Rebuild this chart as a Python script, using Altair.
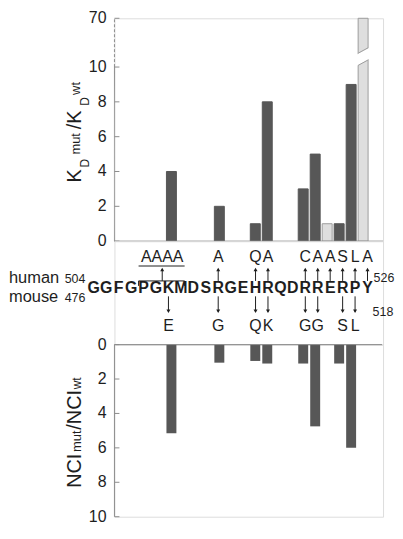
import altair as alt
import pandas as pd

# ---------------- data ----------------
residues = list("GGFGPGKMDSRGEHRQDRRERPY")          # human 504-526 / mouse 476-518
kd_pos = [6, 10, 13, 14, 17, 18, 19, 20, 21, 22]     # residue index of each KD bar
kd_val = [4, 2, 1, 8, 3, 5, 1, 1, 9, 70]              # KD mut / KD wt
kd_kind = ["dark", "dark", "dark", "dark", "dark", "dark", "light", "dark", "dark", "light"]
nci_pos = [6, 10, 13, 14, 17, 18, 20, 21]
nci_val = [5.15, 1.05, 0.95, 1.1, 1.1, 4.75, 1.1, 6.0]  # NCI mut / NCI wt
human_pos = [5.5, 10, 13, 14, 17, 18, 19, 20, 21, 22]
human_aa = ["AAAA", "A", "Q", "A", "C", "A", "A", "S", "L", "A"]
mouse_pos = [6, 10, 13, 14, 17, 18, 20, 21]
mouse_aa = ["E", "G", "Q", "K", "G", "G", "S", "L"]
kd_ticks = [0, 2, 4, 6, 8, 10, 70]
nci_ticks = [0, 2, 4, 6, 8, 10]
bracket_span = [4, 7]          # residues P..M replaced by AAAA
break_band = [10.05, 10.75]    # axis break on the 70 bar

# ---------------- style ----------------
FONT = "Liberation Sans"
INK = "#1e1e1e"
AXC = "#8c8c8c"
DARK = "#575757"
LIGHT = "#dedede"
W = 270
H_TOP, H_MID, H_BOT = 224, 104, 173
TOPDISP = 12.8   # display position of the broken-axis value 70
CALC = f"datum.v > 10 ? {TOPDISP} : datum.v"

xs = alt.Scale(domain=[1.66, 23.25], nice=False, zero=False)


def X(f):
    return alt.X(f, type="quantitative", scale=xs, axis=None)


ys_top = alt.Scale(domain=[0, TOPDISP], nice=False, zero=True)
ys_bot = alt.Scale(domain=[0, 10], nice=False, zero=True, reverse=True)


def YT(f):
    return alt.Y(f, type="quantitative", scale=ys_top, axis=None)


def YB(f):
    return alt.Y(f, type="quantitative", scale=ys_bot, axis=None)


def rot_text(txt, size, px, py):
    return alt.Chart(pd.DataFrame({"t": [txt]})).mark_text(
        font=FONT, fontSize=size, angle=270, align="left", baseline="alphabetic", color=INK
    ).encode(x=alt.value(px), y=alt.value(py), text="t:N")


def tick_labels(ticks, Y, calc=None):
    ch = alt.Chart(pd.DataFrame({"v": ticks, "lab": [str(t) for t in ticks]}))
    field = "v"
    if calc:
        ch = ch.transform_calculate(disp=calc)
        field = "disp"
    return ch.mark_text(font=FONT, fontSize=16, align="right", baseline="middle", color=INK).encode(
        y=Y(field), x=alt.value(-8), text="lab:N")


# ---------------- top panel ----------------
kd_df = pd.DataFrame({"pos": kd_pos, "v": kd_val, "kind": kd_kind})
bars_top = alt.Chart(kd_df).transform_calculate(disp=CALC, base="0").mark_bar(
    size=10, strokeWidth=1
).encode(
    x=X("pos"),
    y=YT("disp"),
    y2="base",
    color=alt.Color("kind:N", scale=alt.Scale(domain=["dark", "light"], range=[DARK, LIGHT]), legend=None),
    stroke=alt.Stroke("kind:N", scale=alt.Scale(domain=["dark", "light"], range=[DARK, "#9c9c9c"]), legend=None),
)

tick_top = alt.Chart(pd.DataFrame({"v": kd_ticks})).transform_calculate(disp=CALC).mark_rule(
    color=AXC, strokeWidth=1
).encode(y=YT("disp"), x=alt.value(0), x2=alt.value(5))

axis_top = alt.Chart(pd.DataFrame({"a": [0, 10], "b": [10, 70], "d": ["solid", "dashed"]})).transform_calculate(
    bd=f"datum.b > 10 ? {TOPDISP} : datum.b"
).mark_rule(color=AXC, strokeWidth=1).encode(
    x=alt.value(0),
    y=YT("a"), y2="bd",
    strokeDash=alt.StrokeDash("d:N", scale=alt.Scale(domain=["solid", "dashed"], range=[[1, 0], [3, 2]]), legend=None),
)

base_top = alt.Chart(pd.DataFrame({"v": [0]})).mark_rule(color=AXC, strokeWidth=1).encode(
    y=YT("v"), x=alt.value(0), x2=alt.value(W)
)

# axis break drawn through the 70 bar
bx = kd_pos[-1]
brk_area = pd.DataFrame({
    "x": [bx - 0.52, bx + 0.52],
    "lo": [break_band[0] + 0.03, break_band[0] + 0.42],
    "hi": [break_band[1] - 0.03, break_band[1] + 0.36],
})
brk_white = alt.Chart(brk_area).mark_area(color="white", opacity=1).encode(
    x=X("x"), y=YT("lo"), y2="hi"
)
brk_lines = alt.Chart(pd.DataFrame({
    "x": [bx - 0.4, bx + 0.4, bx - 0.4, bx + 0.4],
    "y": [break_band[0] + 0.05, break_band[0] + 0.35, break_band[1] + 0.05, break_band[1] + 0.35],
    "g": ["lo", "lo", "hi", "hi"],
})).mark_line(color="#9c9c9c", strokeWidth=1).encode(
    x=X("x"), y=YT("y"), detail="g:N"
)

top = alt.layer(
    bars_top, brk_white, brk_lines, axis_top, tick_top, base_top,
    tick_labels(kd_ticks, YT, CALC),
    rot_text("K", 20, -34, 165), rot_text("D", 12, -26, 150), rot_text("mut", 13, -35, 137),
    rot_text("/K", 20, -34, 111.5), rot_text("D", 12, -26, 88), rot_text("wt", 13, -35, 77),
).properties(width=W, height=H_TOP)

# ---------------- middle panel (sequence) ----------------
seq_df = pd.DataFrame({"i": list(range(len(residues))), "aa": residues})
seq = alt.Chart(seq_df).mark_text(
    font=FONT, fontWeight="bold", fontSize=16, align="center", baseline="alphabetic", color=INK
).encode(x=X("i"), y=alt.value(52.5), text="aa:N")

hum_df = pd.DataFrame({"pos": human_pos, "aa": human_aa})
hum_txt = alt.Chart(hum_df).mark_text(
    font=FONT, fontSize=16, align="center", baseline="alphabetic", color=INK
).encode(x=X("pos"), y=alt.value(20.5), text="aa:N")
hum_shaft = alt.Chart(hum_df).mark_rule(color=INK, strokeWidth=1).encode(
    x=X("pos"), y=alt.value(40), y2=alt.value(28))
hum_head = alt.Chart(hum_df).mark_point(shape="triangle-up", filled=True, size=16, color=INK, opacity=1).encode(
    x=X("pos"), y=alt.value(28.5))

mou_df = pd.DataFrame({"pos": mouse_pos, "aa": mouse_aa})
mou_txt = alt.Chart(mou_df).mark_text(
    font=FONT, fontSize=16, align="center", baseline="alphabetic", color=INK
).encode(x=X("pos"), y=alt.value(90.5), text="aa:N")
mou_shaft = alt.Chart(mou_df).mark_rule(color=INK, strokeWidth=1).encode(
    x=X("pos"), y=alt.value(55.5), y2=alt.value(71))
mou_head = alt.Chart(mou_df).mark_point(shape="triangle-down", filled=True, size=16, color=INK, opacity=1).encode(
    x=X("pos"), y=alt.value(70.5))

br_df = pd.DataFrame({"a": [bracket_span[0] - 0.4], "b": [bracket_span[1] + 0.3]})
br_top = alt.Chart(br_df).mark_rule(color=INK, strokeWidth=1).encode(x=X("a"), x2="b", y=alt.value(25))
br_low = alt.Chart(br_df).mark_rule(color=INK, strokeWidth=1).encode(x=X("a"), x2="b", y=alt.value(40))
br_ends = alt.Chart(pd.DataFrame({"e": [bracket_span[0] - 0.4, bracket_span[1] + 0.3]})).mark_rule(
    color=INK, strokeWidth=1).encode(x=X("e"), y=alt.value(40), y2=alt.value(45))


def label(txt, size, px, py):
    return alt.Chart(pd.DataFrame({"t": [txt]})).mark_text(
        font=FONT, fontSize=size, align="left", baseline="alphabetic", color=INK
    ).encode(x=alt.value(px), y=alt.value(py), text="t:N")


mid = alt.layer(
    seq, hum_txt, hum_shaft, hum_head, mou_txt, mou_shaft, mou_head, br_top, br_low, br_ends,
    label("human", 16.5, -106, 42), label("504", 12.5, -50, 42),
    label("mouse", 16.5, -106, 61), label("476", 12.5, -50, 61),
    label("526", 12.5, 260.5, 41), label("518", 12.5, 259.5, 75),
).properties(width=W, height=H_MID)

# ---------------- bottom panel ----------------
nci_df = pd.DataFrame({"pos": nci_pos, "v": nci_val})
bars_bot = alt.Chart(nci_df).transform_calculate(base="0").mark_bar(size=10, color=DARK).encode(
    x=X("pos"), y=YB("v"), y2="base",
)
tick_bot = alt.Chart(pd.DataFrame({"v": nci_ticks})).mark_rule(color=AXC, strokeWidth=1).encode(
    y=YB("v"), x=alt.value(0), x2=alt.value(5))
axis_bot = alt.Chart(pd.DataFrame({"a": [0], "b": [10]})).mark_rule(color=AXC, strokeWidth=1).encode(
    x=alt.value(0), y=YB("a"), y2="b")
base_bot = alt.Chart(pd.DataFrame({"v": [0]})).mark_rule(color=AXC, strokeWidth=1).encode(
    y=YB("v"), x=alt.value(0), x2=alt.value(W - 1))

bot = alt.layer(
    bars_bot, axis_bot, tick_bot, base_bot,
    tick_labels(nci_ticks, YB),
    rot_text("NCI", 20, -34, 144), rot_text("mut", 13, -34, 108),
    rot_text("/NCI", 20, -34, 85.5), rot_text("wt", 12, -34, 45),
).properties(width=W, height=H_BOT)

chart = alt.vconcat(top, mid, bot, spacing=0, bounds="flush").properties(
    padding={"left": 0, "top": 0, "right": 0, "bottom": 0}
).configure_view(stroke=None).configure(background="white")

chart.save("out.html", embed_options={"renderer": "svg", "actions": False})
